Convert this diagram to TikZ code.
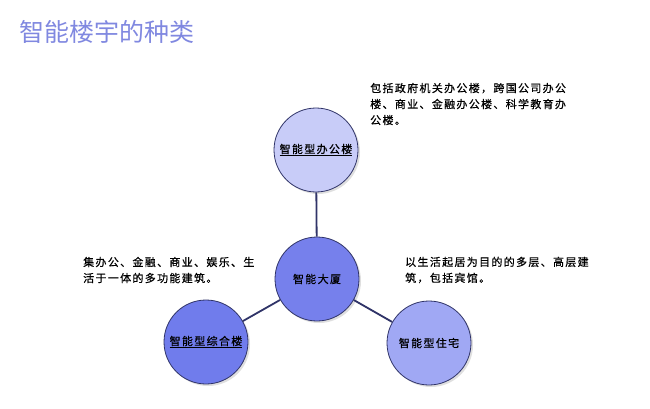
\documentclass[tikz,border=0pt]{standalone}
\usepackage{fontspec}
\setmainfont{Noto Sans CJK SC}
\newfontfamily\cnfont{Noto Sans CJK SC}[LetterSpace=12, FakeBold=0.6]
\usetikzlibrary{shadows}

\definecolor{titleblue}{RGB}{128,136,224}
\definecolor{edgeblue}{RGB}{48,52,104}
\definecolor{officefill}{RGB}{200,204,248}
\definecolor{corefill}{RGB}{118,128,236}
\definecolor{mixfill}{RGB}{112,124,236}
\definecolor{homefill}{RGB}{160,168,244}

\tikzset{
  kind/.style={circle, draw=edgeblue, line width=0.8pt, minimum size=84pt, inner sep=0pt,
    drop shadow={opacity=0.25, shadow xshift=2pt, shadow yshift=-2pt},
    font=\cnfont\fontsize{11pt}{13pt}\selectfont},
  link/.style={draw=edgeblue, line width=1.8pt},
  note/.style={anchor=west, align=left, inner sep=0pt,
    font=\cnfont\fontsize{11pt}{16pt}\selectfont}
}

\begin{document}
\begin{tikzpicture}[x=1pt, y=-1pt]
  \useasboundingbox (0,0) rectangle (650,409);

  % Title
  \node (title) at (19,32) [anchor=west, inner sep=0pt, text=titleblue,
    font=\fontsize{25pt}{28pt}\selectfont] {智能楼宇的种类};

  % Circles
  \node (office) at (316,150) [kind, fill=officefill] {\underline{智能型办公楼}};
  \node (core) at (317,279) [kind, fill=corefill] {智能大厦};
  \node (mixed) at (206,342) [kind, fill=mixfill] {\underline{智能型综合楼}};
  \node (home) at (429,343) [kind, fill=homefill] {智能型住宅};

  % Links to the centre
  \draw[link] (office) -- (core);
  \draw[link] (core) -- (mixed);
  \draw[link] (core) -- (home);

  % Descriptions
  \node (officetext) at (370,104) [note] {包括政府机关办公楼，跨国公司办公\\楼、商业、金融办公楼、科学教育办\\公楼。};
  \node (mixedtext) at (83,270) [note] {集办公、金融、商业、娱乐、生\\活于一体的多功能建筑。};
  \node (hometext) at (405,270) [note] {以生活起居为目的的多层、高层建\\筑，包括宾馆。};
\end{tikzpicture}
\end{document}
